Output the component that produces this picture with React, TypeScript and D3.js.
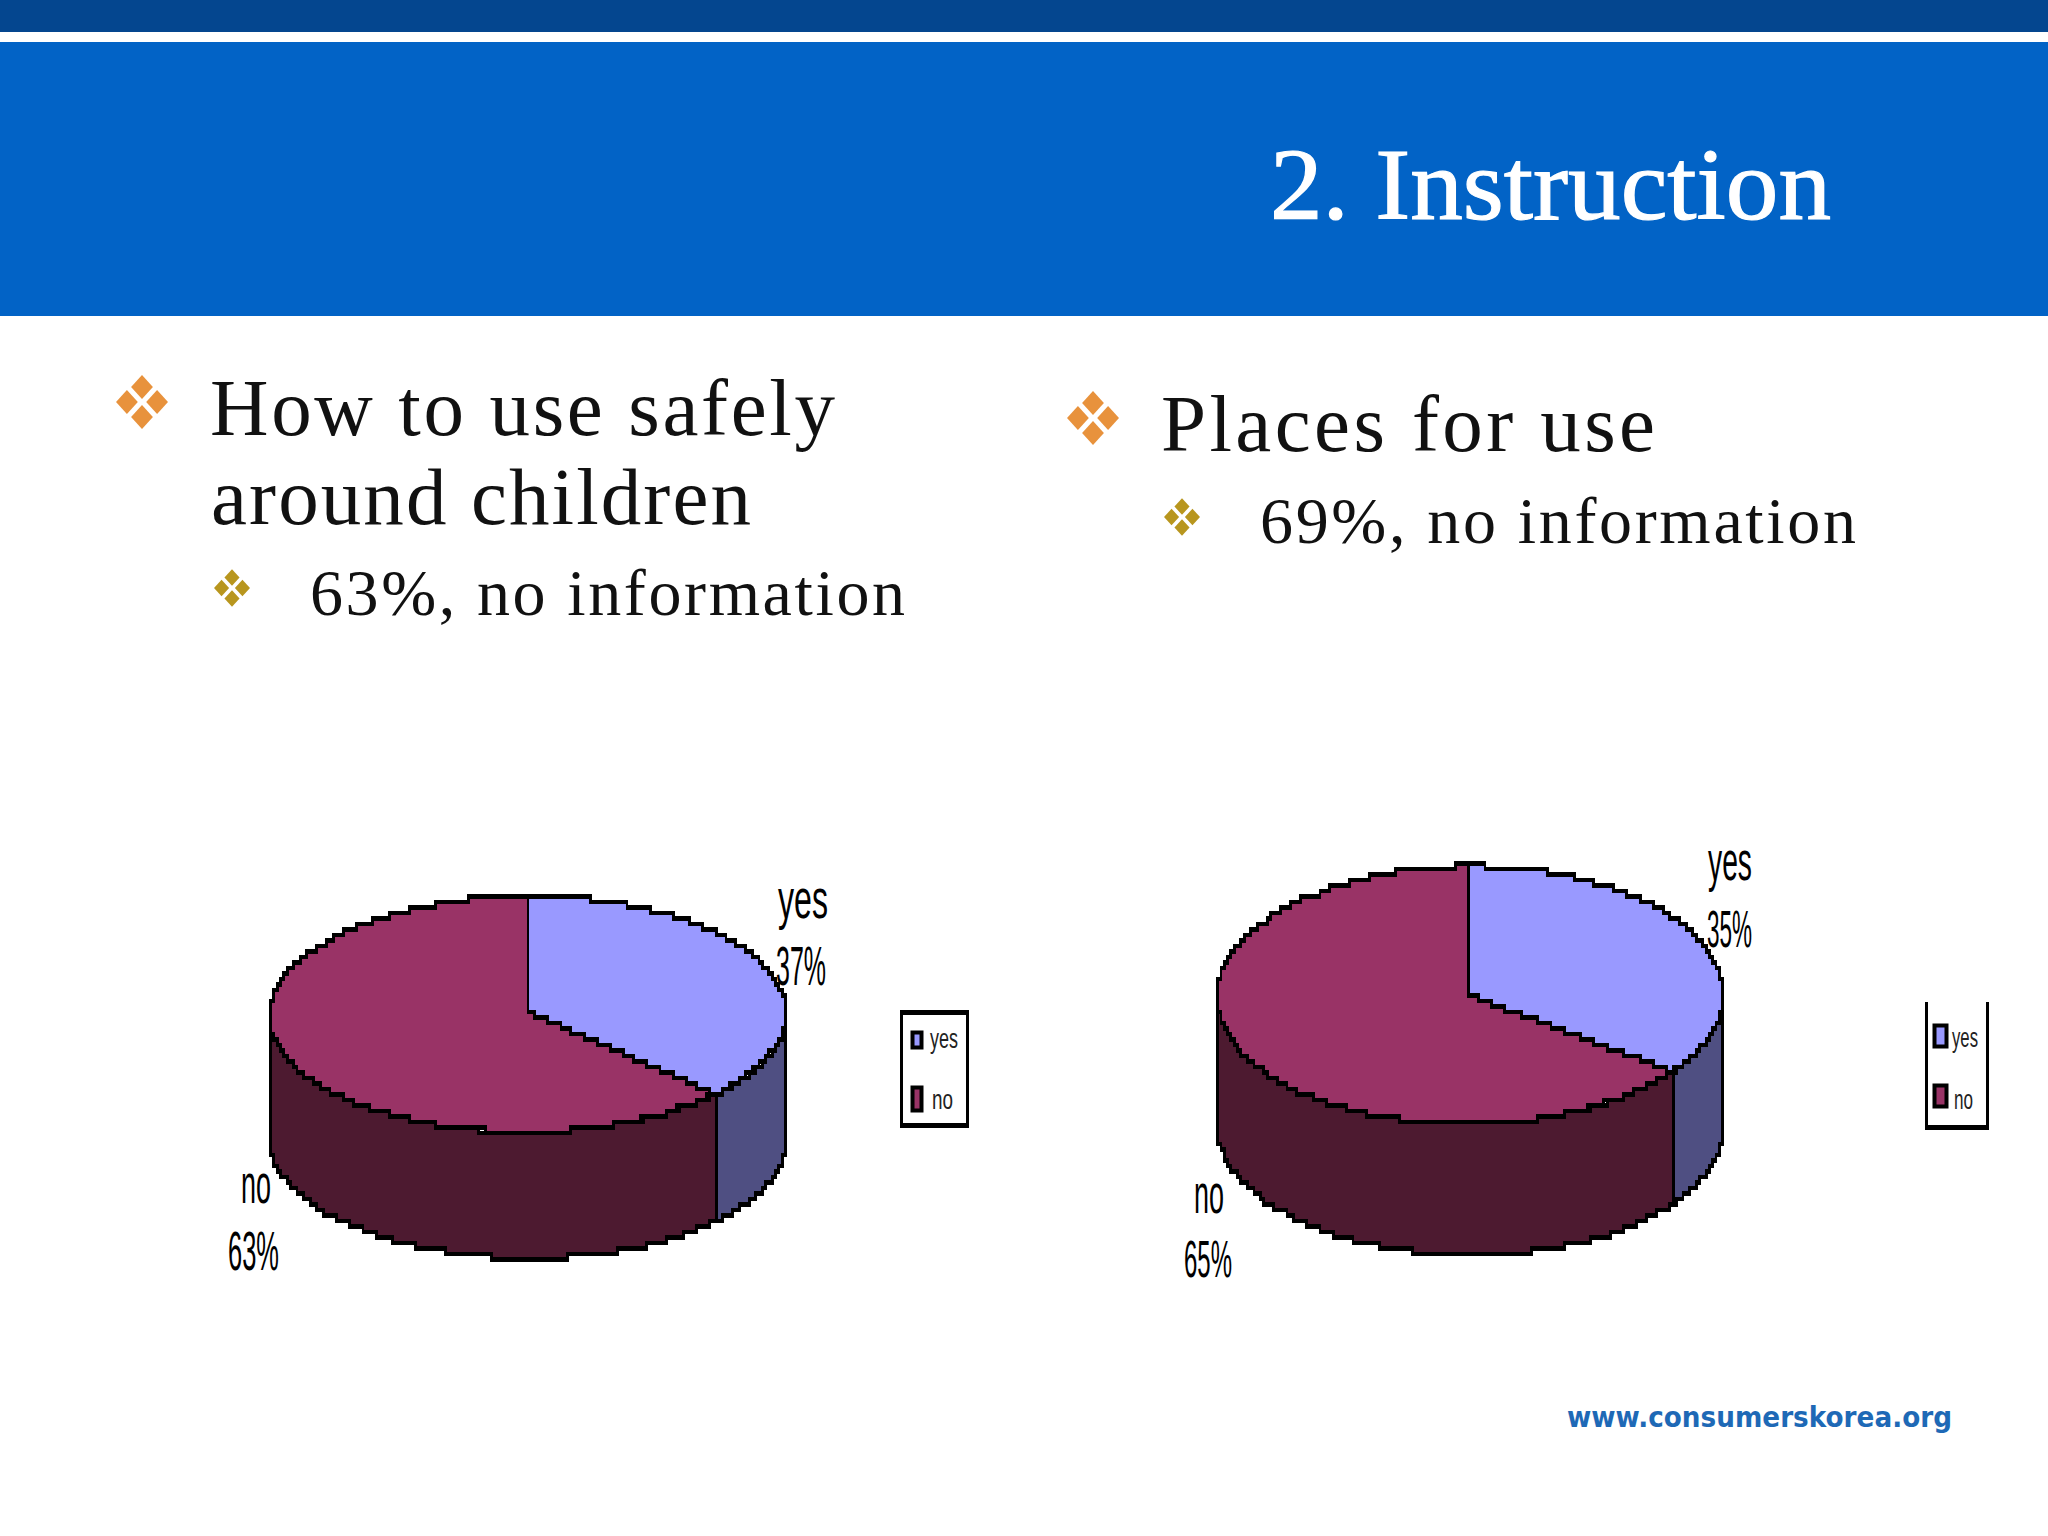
import React from "react";
import * as d3 from "d3";

const categories = ["yes", "no"];
const leftValues = [37, 63];
const rightValues = [35, 65];
const topColors = ["#9999FF", "#993366"];
const sideColors = ["#4F4F82", "#4D1A30"];
const SERIF = "'Liberation Serif', serif";
const SANS = "'Liberation Sans', Arial, sans-serif";

type Pt = [number, number];
const PX = 3.3, PY = 5.5;
const stepLine = d3.line<Pt>().curve(d3.curveStepAfter);

function rim(cx: number, cy: number, rx: number, ry: number, a0: number, a1: number, dy = 0): Pt[] {
  const n = 140;
  const s = d3.scaleLinear().domain([0, n]).range([a0, a1]);
  return d3.range(n + 1).map((i) => {
    const t = s(i);
    return [Math.round((cx + rx * Math.sin(t)) / PX), Math.round((cy - ry * Math.cos(t) + dy) / PY)] as Pt;
  });
}
function seg(a: Pt, b: Pt): Pt[] {
  const n = 60;
  return d3.range(n + 1).map((i) => {
    const k = i / n;
    return [Math.round(a[0] + (b[0] - a[0]) * k), Math.round(a[1] + (b[1] - a[1]) * k)] as Pt;
  });
}

function Pie3D({ values, cx, cy, rx, ry, depth }: { values: number[]; cx: number; cy: number; rx: number; ry: number; depth: number }) {
  const arcs = d3.pie<number>().sort(null).startAngle(0).endAngle(2 * Math.PI)(values);
  const c: Pt = [Math.round(cx / PX), Math.round(cy / PY)];
  const sides: React.ReactNode[] = [];
  const tops: React.ReactNode[] = [];
  const lo = Math.PI / 2, hi = (3 * Math.PI) / 2;
  arcs.forEach((a, i) => {
    const s0 = Math.max(a.startAngle, lo), s1 = Math.min(a.endAngle, hi);
    if (s1 > s0) {
      const up = rim(cx, cy, rx, ry, s0, s1);
      const dn = rim(cx, cy, rx, ry, s0, s1, depth).reverse();
      sides.push(<path key={i} d={(stepLine(up) || "") + (stepLine(dn) || "").replace(/^M/, "L") + "Z"} fill={sideColors[i]} stroke="#000" strokeWidth={0.9} />);
    }
    const r = rim(cx, cy, rx, ry, a.startAngle, a.endAngle);
    const pts = [...seg(c, r[0]), ...r, ...seg(r[r.length - 1], c)];
    tops.push(<path key={i} d={(stepLine(pts) || "") + "Z"} fill={topColors[i]} stroke="#000" strokeWidth={0.9} />);
  });
  return (
    <g transform={`scale(${PX},${PY})`} shapeRendering="crispEdges" strokeLinejoin="miter">
      {sides}
      {tops}
    </g>
  );
}

function Squeezed({ x, y, w, size, children, fill = "#000", weight = 400 }: any) {
  return (
    <text x={x} y={y} textLength={w} lengthAdjust="spacingAndGlyphs" fontFamily={SANS} fontSize={size} fill={fill} fontWeight={weight}>
      {children}
    </text>
  );
}

function Bullet({ x, y, r, fill }: { x: number; y: number; r: number; fill: string }) {
  const o = r * 0.58, a = r * 0.42, b = r * 0.46;
  const offs: Pt[] = [[0, -o], [o, 0], [0, o], [-o, 0]];
  return (
    <g fill={fill}>
      {offs.map(([dx, dy], i) => (
        <path key={i} d={`M${x + dx},${y + dy - b}L${x + dx + a},${y + dy}L${x + dx},${y + dy + b}L${x + dx - a},${y + dy}Z`} />
      ))}
    </g>
  );
}

function Legend({ x0, x1, y0, y1, open, sw, txt }: any) {
  return (
    <g>
      <rect x={x0} y={y0} width={3} height={y1 - y0} fill="#000" />
      <rect x={x1 - 3} y={y0} width={3} height={y1 - y0} fill="#000" />
      <rect x={x0} y={y1 - 5} width={x1 - x0} height={5} fill="#000" />
      {!open && <rect x={x0} y={y0} width={x1 - x0} height={5} fill="#000" />}
      {categories.map((c, i) => (
        <g key={c}>
          <rect x={sw[i][0] + 1.5} y={sw[i][1] + 2.5} width={sw[i][2] - 3} height={sw[i][3] - 5} fill={topColors[i]} stroke="#000" strokeWidth={4} />
          <Squeezed x={txt[i][0]} y={txt[i][1]} w={txt[i][2]} size={27} fill="#222">{c}</Squeezed>
        </g>
      ))}
    </g>
  );
}

export default function App() {
  return (
    <svg width={2048} height={1536} viewBox="0 0 2048 1536" style={{ position: "absolute", left: 0, top: 0, display: "block", background: "#fff" }}>
      <rect x={0} y={0} width={2048} height={32} fill="#04468F" />
      <rect x={0} y={42} width={2048} height={274} fill="#0263C6" />
      <text x={1270} y={219} textLength={561} lengthAdjust="spacingAndGlyphs" fontFamily={SERIF} fontSize={102} fill="#fff" stroke="#fff" strokeWidth={1.2}>2. Instruction</text>

      <Bullet x={142} y={402} r={26} fill="#E8923C" />
      <text x={210} y={435} textLength={625} fontFamily={SERIF} fontSize={81} fill="#111">How to use safely</text>
      <text x={211} y={524} textLength={540} fontFamily={SERIF} fontSize={81} fill="#111">around children</text>
      <Bullet x={232} y={588} r={18} fill="#B8961E" />
      <text x={310} y={615} textLength={595} fontFamily={SERIF} fontSize={66} fill="#111">63%, no information</text>

      <Bullet x={1093} y={418} r={26} fill="#E8923C" />
      <text x={1161} y={451} textLength={494} fontFamily={SERIF} fontSize={81} fill="#111">Places for use</text>
      <Bullet x={1182} y={517} r={18} fill="#B8961E" />
      <text x={1260} y={543} textLength={596} fontFamily={SERIF} fontSize={66} fill="#111">69%, no information</text>

      <Pie3D values={leftValues} cx={528} cy={1014} rx={258} ry={118} depth={126} />
      <Squeezed x={778} y={918} w={50} size={55}>{categories[0]}</Squeezed>
      <Squeezed x={776} y={985} w={50} size={55}>{leftValues[0]}%</Squeezed>
      <Squeezed x={241} y={1203} w={30} size={55}>{categories[1]}</Squeezed>
      <Squeezed x={228} y={1270} w={51} size={55}>{leftValues[1]}%</Squeezed>
      <Legend x0={900} x1={969} y0={1010} y1={1128} open={false}
        sw={[[911, 1030, 12, 20], [911, 1085, 12, 28]]} txt={[[930, 1048, 28], [932, 1109, 21]]} />

      <Pie3D values={rightValues} cx={1470} cy={995} rx={253} ry={129} depth={131} />
      <Squeezed x={1708} y={880} w={44} size={55}>{categories[0]}</Squeezed>
      <Squeezed x={1707} y={947} w={45} size={52}>{rightValues[0]}%</Squeezed>
      <Squeezed x={1194} y={1213} w={30} size={55}>{categories[1]}</Squeezed>
      <Squeezed x={1184} y={1277} w={48} size={52}>{rightValues[1]}%</Squeezed>
      <Legend x0={1925} x1={1989} y0={1002} y1={1130} open={true}
        sw={[[1933, 1023, 15, 26], [1933, 1083, 15, 26]]} txt={[[1952, 1047, 26], [1954, 1109, 19]]} />

      <text x={1567} y={1427} textLength={385} lengthAdjust="spacingAndGlyphs" fontFamily="'DejaVu Sans', sans-serif" fontWeight={700} fontSize={29} fill="#1E69B6">www.consumerskorea.org</text>
    </svg>
  );
}
